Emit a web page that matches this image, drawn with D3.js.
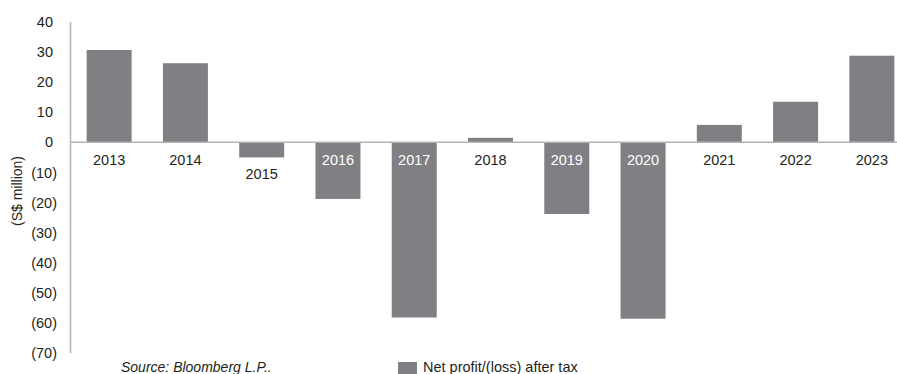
<!DOCTYPE html>
<html>
<head>
<meta charset="utf-8">
<script src="https://cdn.jsdelivr.net/npm/d3@7"></script>
<style>
  body { margin: 0; background: #fff; }
  svg { display: block; font-family: "Liberation Sans", Arial, sans-serif; }
</style>
</head>
<body>
<div class="main__area"></div>
<script>
const years = ["2013","2014","2015","2016","2017","2018","2019","2020","2021","2022","2023"];
const netProfit = [30.7, 26.3, -5.0, -18.8, -58.2, 1.5, -23.8, -58.6, 5.8, 13.5, 28.8];
const yTicks = [40, 30, 20, 10, 0, -10, -20, -30, -40, -50, -60, -70];
const seriesName = "Net profit/(loss) after tax";
const yTitle = "(S$ million)";
const sourceNote = "Source: Bloomberg L.P..";

const width = 897;
const height = 374;
const fontSize = 14.5;
const barColor = "#808084";
const textColor = "#231f20";
const axisColor = "#b4b4b4";

const svg = d3.select(".main__area").append("svg")
    .attr("width", width)
    .attr("height", height);

const x = d3.scaleBand().domain(years).range([71, 910]).paddingInner(0.41).paddingOuter(0.205);
const y = d3.scaleLinear().domain([-70, 40]).range([353, 22]);

// bars
svg.append("g").selectAll("rect")
    .data(years)
    .join("rect")
    .attr("x", d => x(d))
    .attr("width", x.bandwidth())
    .attr("y", (d, i) => y(Math.max(0, netProfit[i])))
    .attr("height", (d, i) => Math.abs(y(netProfit[i]) - y(0)))
    .attr("fill", barColor);

// zero line
svg.append("line")
    .attr("x1", 70).attr("x2", width)
    .attr("y1", y(0)).attr("y2", y(0))
    .attr("stroke", axisColor).attr("stroke-width", 1.5);

// y axis line
svg.append("line")
    .attr("x1", 70.5).attr("x2", 70.5)
    .attr("y1", y(40)).attr("y2", y(-70))
    .attr("stroke", axisColor).attr("stroke-width", 1.5);

// y tick labels (positives leave room for the closing bracket)
svg.append("g").selectAll("text")
    .data(yTicks)
    .join("text")
    .attr("x", d => d < 0 ? 57 : 53)
    .attr("y", d => y(d))
    .attr("dy", "0.35em")
    .attr("text-anchor", "end")
    .attr("font-size", fontSize)
    .attr("fill", textColor)
    .text(d => d < 0 ? `(${-d})` : d);

// y title
svg.append("text")
    .attr("transform", `translate(22, 191) rotate(-90)`)
    .attr("text-anchor", "middle")
    .attr("font-size", 14)
    .attr("fill", textColor)
    .text(yTitle);

// category labels: white inside long negative bars, below short ones
svg.append("g").selectAll("text")
    .data(years)
    .join("text")
    .attr("x", d => x(d) + x.bandwidth() / 2)
    .attr("y", (d, i) => {
        const v = netProfit[i];
        if (v < 0 && v > -10) return y(v) + 17;
        return y(0) + 18;
    })
    .attr("dy", "0.35em")
    .attr("text-anchor", "middle")
    .attr("font-size", fontSize)
    .attr("fill", (d, i) => netProfit[i] <= -10 ? "#fff" : textColor)
    .text(d => d);

// source
svg.append("text")
    .attr("x", 121).attr("y", 372)
    .attr("font-size", 14)
    .attr("font-style", "italic")
    .attr("fill", textColor)
    .text(sourceNote);

// legend
const legend = svg.append("g").attr("transform", "translate(398, 362)");
legend.append("rect")
    .attr("width", 19).attr("height", 14)
    .attr("fill", barColor);
legend.append("text")
    .attr("x", 25).attr("y", 10)
    .attr("font-size", fontSize)
    .attr("fill", textColor)
    .text(seriesName);
</script>
</body>
</html>
